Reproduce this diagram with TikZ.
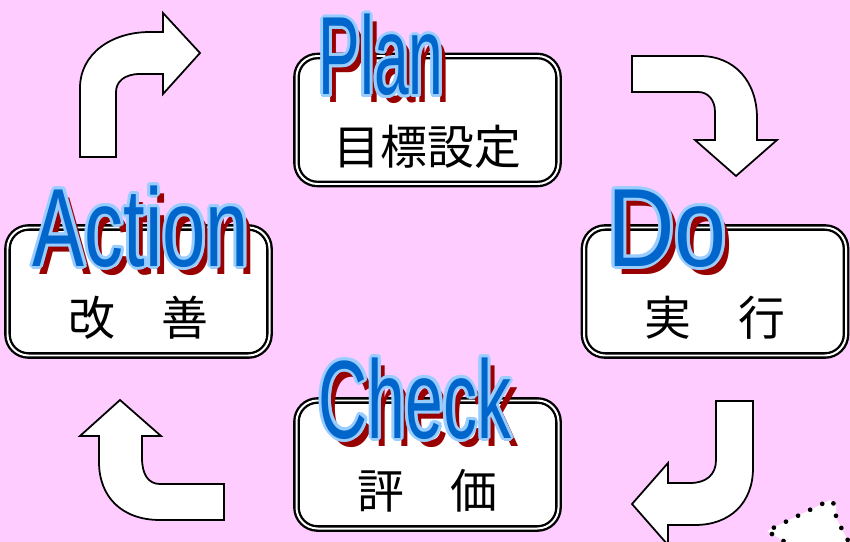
\documentclass[tikz,border=0pt]{standalone}
\usepackage{fontspec}
\usepackage{tikz}
\usetikzlibrary{calc}
\newfontfamily\jpfont{Noto Sans CJK JP}
\newfontfamily\wafont{Liberation Sans}
\definecolor{bgpink}{RGB}{255,204,255}
\definecolor{wordblue}{RGB}{0,102,204}
\definecolor{wordrim}{RGB}{153,204,255}
\definecolor{wordred}{RGB}{153,0,0}
\newcommand{\pdcaword}[5]{%
  \node[wordshadow] (#1-shadow) at (#2+7,#3+8) {\scalebox{#4}[1]{#5}};
  \foreach \a in {0,30,...,330}
    \node[wordrimtext] at ($(#2,#3)+(\a:3)$) {\scalebox{#4}[1]{#5}};
  \node[wordfill] (#1) at (#2,#3) {\scalebox{#4}[1]{#5}};
}

\begin{document}
\begin{tikzpicture}[x=0.03cm, y=-0.03cm,
stagebox/.style = {draw=black, fill=white, line width=2pt, double=white, double distance=1.7pt, rounded corners=18pt, minimum width=262*0.03cm, minimum height=128*0.03cm, inner sep=0},
jplabel/.style = {font=\jpfont\fontsize{40}{40}\selectfont, inner sep=0},
wordbase/.style = {anchor=base, inner sep=0, font=\wafont\fontsize{95}{95}\selectfont},
wordshadow/.style = {wordbase, text=wordred},
wordrimtext/.style = {wordbase, text=wordrim},
wordfill/.style = {wordbase, text=wordblue},
blockarrow/.style = {fill=white, draw=black, line width=1.5pt, line join=miter},
dotline/.style = {draw=black, line width=4pt, line cap=round, dash pattern=on 0pt off 11.5pt}]
\fill[bgpink] (0,0) rectangle (850,542);
\useasboundingbox (0,0) rectangle (850,542);

\draw[blockarrow] (80,157) -- (80,88) .. controls (80,54) and (111,32) .. (150,32) -- (163,32) -- (163,13) -- (200,53) -- (163,94) -- (163,74) -- (140,74) .. controls (124,74) and (116,82) .. (116,92) -- (116,157) -- cycle;
\draw[blockarrow] (632,56) -- (700,56) .. controls (735,56) and (757,82) .. (757,118) -- (757,140) -- (777,140) -- (736,176) -- (695,140) -- (715,140) -- (715,112) .. controls (715,100) and (708,92) .. (698,92) -- (632,92) -- cycle;
\draw[blockarrow] (716,401) -- (753,401) -- (753,468) .. controls (753,503) and (730,525) .. (695,525) -- (668,525) -- (668,545) -- (632,504) -- (668,463) -- (668,483) -- (690,483) .. controls (706,483) and (716,475) .. (716,460) -- cycle;
\draw[blockarrow] (120,400) -- (161,436) -- (142,436) -- (142,458) .. controls (142,474) and (148,484) .. (160,484) -- (224,484) -- (224,520) -- (160,520) .. controls (122,520) and (99,497) .. (99,462) -- (99,436) -- (80,436) -- cycle;

\fill[white] (795,548) -- (767,531) -- (830,500) -- (836,506) -- (836,518) -- (852,548) -- cycle;
\draw[dotline] (795,548) -- (767,531) -- (830,500) -- (836,506) -- (836,518) -- (852,548);

\node[stagebox] (plan) at (427.5,120) {};
\node[stagebox] (do) at (715,291.5) {};
\node[stagebox] (check) at (427.5,464.5) {};
\node[stagebox] (action) at (138.5,291.5) {};

\node[jplabel] (plan-text) at ($(plan)+(0,27)$) {目標設定};
\node[jplabel] (do-text) at ($(do)+(0,26)$) {実　行};
\node[jplabel] (check-text) at ($(check)+(0,26)$) {評　価};
\node[jplabel] (action-text) at ($(action)+(0,26)$) {改　善};

\pdcaword{plan-word}{381}{95}{0.56}{Plan}
\pdcaword{do-word}{667}{266}{0.84}{Do}
\pdcaword{check-word}{415}{438}{0.61}{Check}
\pdcaword{action-word}{141}{266}{0.70}{Action}
\end{tikzpicture}
\end{document}
